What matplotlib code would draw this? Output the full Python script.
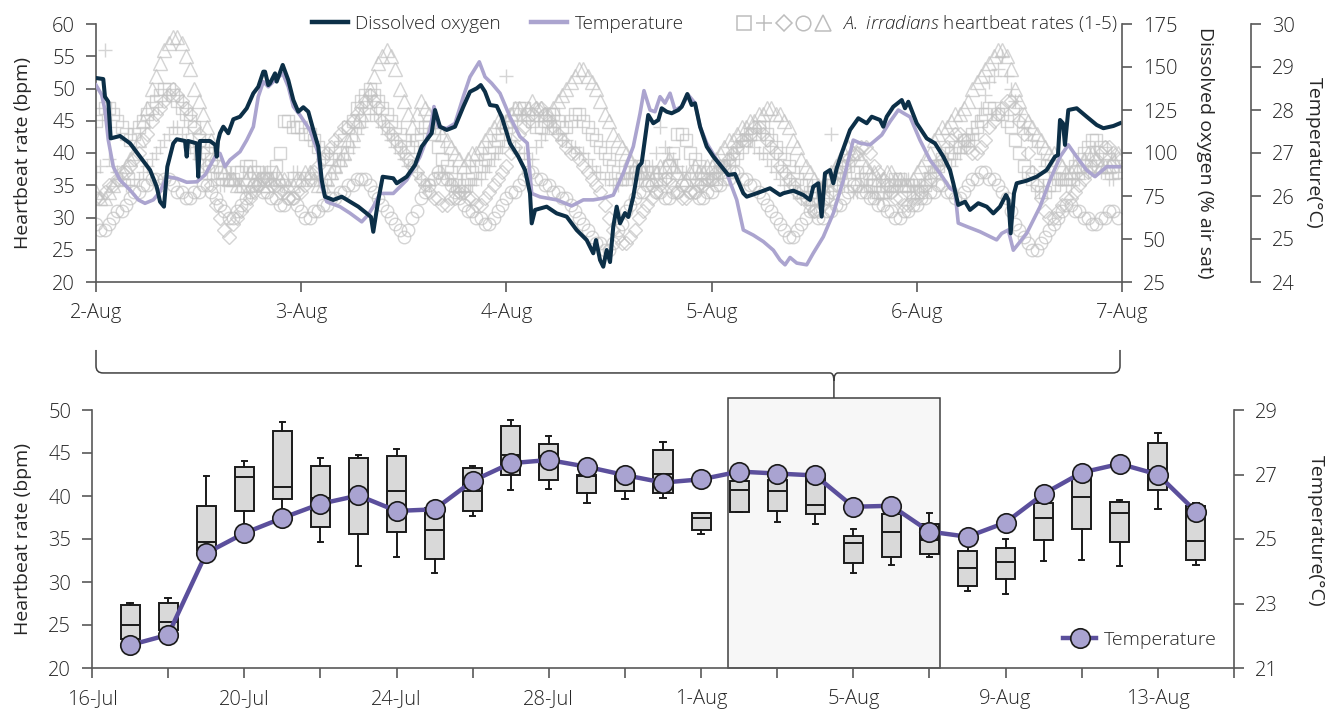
import numpy as np
import matplotlib
matplotlib.use("Agg")
import matplotlib.pyplot as plt
from matplotlib.lines import Line2D
from matplotlib.legend_handler import HandlerTuple
from matplotlib.patches import Rectangle, PathPatch
from matplotlib.path import Path

plt.rcParams["font.family"] = ["Open Sans", "DejaVu Sans"]
plt.rcParams["font.weight"] = "light"
plt.rcParams["mathtext.fontset"] = "custom"
plt.rcParams["mathtext.it"] = "Open Sans:italic"
plt.rcParams["mathtext.rm"] = "Open Sans"

# ---------------- top panel: 2-Aug to 7-Aug high-frequency record ----------------
# hours since 2-Aug 00:00
do_hours = [0, 0.85, 1.05, 1.44, 1.72, 2.81, 3.98, 5.15, 6.32, 7.10, 7.49, 7.95, 8.34, 9.04, 9.44,
            10.41, 10.61, 10.76, 11.78, 11.96, 12.16, 13.33, 13.95, 14.12, 14.27, 14.50, 14.89, 15.47,
            16.06, 16.84, 17.63, 18.40, 18.98, 19.57, 19.77, 20.15, 20.35, 20.94, 21.13, 21.84, 22.49,
            23.08, 23.66, 24.25, 24.83, 25.42, 26.00, 26.40, 26.78, 27.75, 28.74, 29.71, 30.68, 31.66,
            32.16, 32.43, 33.02, 33.53, 34.77, 35.17, 36.34, 37.31, 38.09, 38.68, 39.26, 39.65, 40.23,
            41.02, 41.99, 42.96, 43.74, 44.53, 45.0, 45.50, 46.08, 46.87, 47.45, 48.42, 49.39, 50.18,
            50.76, 50.96, 51.35, 52.71, 53.88, 55.05, 56.22, 57.39, 58.16, 58.48, 58.95, 59.33, 59.73,
            60.12, 60.50, 60.90, 61.29, 61.87, 62.26, 62.84, 63.43, 63.82, 64.59, 65.18, 65.77, 66.16,
            66.75, 67.33, 68.11, 68.50, 69.16, 69.67, 70.06, 70.65, 71.43, 72.21, 73.18, 73.96, 74.74,
            75.71, 76.11, 77.28, 78.83, 80.0, 80.39, 81.56, 82.72, 83.51, 83.89, 84.48, 84.87, 85.26,
            85.85, 86.24, 86.63, 87.21, 88.19, 89.16, 90.14, 90.73, 91.70, 92.08, 92.48, 93.25, 94.24,
            94.62, 95.01, 95.99, 97.16, 98.13, 99.10, 99.88, 100.27, 100.85, 101.64, 102.22, 103.19,
            104.18, 104.95, 105.73, 106.43, 106.72, 106.98, 107.37, 107.68, 108.85, 110.02, 111.19,
            112.16, 112.51, 112.75, 113.10, 113.33, 113.72, 114.70, 115.87, 117.04, 117.82, 118.99, 119.77]
do_values = [143.6, 143.0, 132.7, 129.8, 108.5, 109.9, 105.6, 97.9, 90.1, 80.4, 71.7, 68.8, 92.0, 105.6, 108.0,
             107.0, 97.9, 107.0, 105.6, 86.2, 107.0, 107.0, 104.7, 97.9, 107.0, 111.5, 115.3, 111.5,
             119.6, 121.1, 126.0, 134.7, 138.5, 147.3, 147.3, 139.5, 140.5, 146.3, 141.5, 151.2, 142.4,
             130.8, 124.0, 126.6, 124.0, 113.4, 103.7, 84.3, 74.6, 72.7, 74.6, 71.7, 68.8, 64.9,
             62.8, 54.2, 72.7, 86.2, 85.3, 82.4, 86.2, 93.0, 103.7, 107.6, 111.5, 125.0, 115.3,
             113.4, 115.3, 126.9, 135.6, 137.6, 139.5, 135.6, 127.9, 127.3, 121.1, 105.6, 97.9, 90.1,
             76.6, 59.1, 66.9, 68.8, 64.9, 63.0, 55.2, 49.4, 41.7, 49.4, 37.8, 33.9, 43.6,
             36.6, 57.2, 68.8, 59.1, 65.1, 62.8, 74.6, 92.0, 94.2, 122.1, 117.3, 119.2, 126.0,
             124.0, 123.1, 125.0, 126.9, 134.3, 127.9, 128.9, 115.3, 103.7, 97.9, 92.0, 87.2, 87.8,
             76.6, 74.6, 76.6, 79.5, 75.6, 76.6, 78.1, 75.6, 72.7, 80.4, 82.4, 63.0, 88.2,
             90.1, 82.4, 91.1, 99.8, 113.4, 120.2, 117.3, 121.1, 119.2, 115.3, 121.1, 126.9, 130.8,
             126.0, 129.8, 117.3, 108.5, 105.6, 97.9, 90.1, 82.4, 69.8, 71.7, 66.9, 70.8,
             68.8, 64.9, 68.8, 75.6, 72.7, 53.3, 76.6, 82.4, 83.9, 86.2, 90.1,
             97.9, 98.8, 119.2, 117.3, 104.7, 125.0, 126.0, 121.1, 116.3, 114.4, 115.7, 117.3]

temp_hours = [0, 0.67, 1.05, 1.44, 2.02, 2.81, 3.98, 4.95, 5.73, 6.70, 7.49, 8.27, 9.44, 10.61, 11.78,
              12.75, 13.92, 14.50, 15.09, 15.67, 16.84, 17.63, 18.40, 18.98, 19.57, 20.15, 20.94, 21.84,
              22.49, 23.08, 23.86, 25.03, 26.00, 26.40, 26.98, 28.54, 29.71, 31.08, 31.82, 32.43, 33.22,
              34.77, 36.34, 37.89, 39.06, 39.53, 40.04, 41.02, 41.99, 42.96, 43.74, 44.83, 45.50, 46.28,
              47.25, 48.42, 49.59, 50.44, 50.96, 51.93, 53.88, 55.64, 57.0, 58.16, 59.33, 60.50, 61.67,
              62.84, 63.63, 64.09, 64.80, 65.38, 65.97, 66.55, 67.14, 67.72, 68.50, 69.27, 70.06, 70.65,
              71.43, 72.60, 73.77, 74.94, 75.71, 76.88, 78.05, 79.22, 80.0, 80.59, 81.17, 81.96, 83.12,
              83.89, 85.06, 86.24, 87.41, 88.57, 89.36, 90.53, 91.90, 92.87, 93.84, 94.50, 95.21, 96.37,
              97.54, 98.71, 99.88, 100.47, 100.85, 101.84, 103.39, 105.34, 105.93, 106.70, 107.29,
              108.85, 110.41, 111.58, 112.75, 113.72, 114.70, 115.87, 116.84, 118.21, 119.77]
temp_values = [28.58, 28.35, 28.0, 27.30, 26.68, 26.37, 26.14, 25.91, 25.83, 25.91, 26.10, 26.45, 26.41, 26.32, 26.33,
               26.49, 26.91, 26.99, 26.68, 26.84, 27.03, 27.30, 27.61, 28.31, 28.66, 28.54, 28.70, 28.85,
               28.54, 28.08, 27.88, 27.53, 26.99, 26.22, 25.87, 25.75, 25.60, 25.40, 25.56, 25.75, 26.06,
               26.06, 26.37, 26.91, 27.53, 28.08, 27.61, 27.57, 27.69, 28.31, 28.77, 29.12, 28.77, 28.62,
               28.39, 27.84, 27.38, 27.23, 26.06, 25.98, 25.91, 25.77, 25.91, 25.91, 25.95, 26.02, 26.53,
               27.15, 27.92, 28.45, 28.0, 27.96, 28.31, 28.16, 28.39, 28.0, 28.08, 28.35, 28.16, 27.61,
               27.23, 26.84, 26.53, 25.91, 25.21, 25.09, 24.94, 24.74, 24.51, 24.40, 24.57, 24.44, 24.40,
               24.67, 25.05, 25.60, 26.37, 27.30, 27.23, 27.19, 27.42, 27.73, 28.0, 27.92, 27.84, 27.30,
               26.84, 26.53, 26.18, 26.10, 25.37, 25.29, 25.17, 24.98, 25.13, 25.21, 24.74,
               25.13, 25.75, 26.37, 26.91, 27.19, 26.91, 26.60, 26.45, 26.68, 26.68]

# heartbeat readings (bpm) for the five scallops, on the hour and on the half hour
hb_hours = np.arange(120)
hb_1 = [45, 47, 46, 44, 42, 44, 46, 48, 50, 49, 47, 45, 42, 40, 38, 37, 36, 37, 38, 37, 36, 38, 45, 44,
        44, 43, 41, 39, 40, 42, 45, 48, 50, 48, 46, 44, 42, 41, 43, 44, 41, 38, 36, 35, 37, 38, 40, 42,
        44, 46, 47, 45, 44, 46, 45, 44, 46, 45, 43, 41, 39, 37, 36, 37, 38, 37, 36, 38, 43, 42, 39, 37,
        36, 37, 38, 40, 42, 43, 44, 42, 40, 38, 36, 35, 34, 33, 35, 37, 38, 37, 36, 35, 34, 35, 36, 35,
        34, 35, 37, 39, 40, 41, 42, 44, 46, 47, 46, 44, 40, 37, 35, 34, 35, 36, 37, 39, 41, 42, 40, 38]
hb_1_half = [46, 47, 45, 43, 43, 45, 47, 49, 50, 48, 46, 44, 41, 39, 37, 36, 37, 38, 37, 36, 37, 40, 45, 44,
             43, 42, 40, 39, 41, 44, 47, 49, 49, 47, 45, 43, 41, 42, 44, 43, 39, 37, 35, 36, 38, 39, 41, 43,
             45, 47, 46, 44, 45, 46, 44, 45, 46, 44, 42, 40, 38, 36, 37, 38, 37, 36, 37, 40, 43, 40, 38, 36,
             36, 38, 39, 41, 43, 44, 43, 41, 39, 37, 35, 34, 33, 34, 36, 38, 37, 36, 35, 34, 35, 36, 35, 34,
             34, 36, 38, 40, 41, 42, 43, 45, 47, 46, 45, 42, 38, 36, 34, 35, 36, 36, 38, 40, 42, 41, 39, 37]
hb_2 = [37, 56, 38, 36, 35, 36, 38, 40, 42, 44, 43, 41, 39, 37, 36, 35, 36, 35, 34, 36, 37, 36, 35, 37,
        36, 37, 36, 35, 37, 39, 41, 44, 46, 45, 43, 41, 39, 38, 36, 35, 37, 36, 35, 34, 35, 36, 38, 40,
        52, 41, 40, 39, 42, 44, 43, 42, 41, 40, 38, 37, 36, 35, 36, 37, 36, 38, 44, 40, 38, 37, 36, 35,
        36, 37, 39, 41, 43, 41, 40, 38, 36, 35, 34, 33, 32, 34, 43, 36, 35, 34, 35, 34, 33, 34, 35, 36,
        35, 36, 38, 39, 38, 40, 42, 45, 49, 52, 55, 50, 46, 43, 41, 38, 37, 36, 35, 36, 37, 38, 37, 36]
hb_2_half = [38, 39, 37, 35, 36, 37, 39, 41, 43, 44, 42, 40, 38, 36, 35, 36, 35, 34, 35, 37, 36, 35, 36, 37,
             36, 36, 35, 36, 38, 40, 43, 45, 46, 44, 42, 40, 38, 37, 35, 36, 37, 35, 34, 35, 36, 37, 39, 41,
             42, 40, 39, 41, 43, 44, 42, 41, 40, 39, 37, 36, 35, 36, 37, 36, 37, 40, 41, 39, 37, 36, 35, 36,
             37, 38, 40, 42, 42, 40, 39, 37, 35, 34, 33, 32, 33, 35, 37, 35, 34, 35, 34, 33, 34, 35, 36, 35,
             35, 37, 38, 39, 39, 41, 43, 47, 51, 53, 52, 48, 44, 42, 39, 37, 36, 35, 36, 37, 38, 37, 36, 37]
hb_3 = [33, 34, 35, 37, 38, 40, 43, 46, 48, 50, 48, 46, 43, 38, 32, 28, 29, 31, 33, 35, 36, 35, 34, 33,
        34, 36, 38, 40, 42, 44, 45, 47, 49, 47, 44, 42, 40, 38, 36, 34, 33, 32, 33, 34, 33, 32, 34, 36,
        38, 41, 44, 46, 47, 45, 43, 41, 40, 38, 36, 34, 30, 27, 26, 28, 31, 33, 35, 36, 34, 33, 34, 35,
        36, 38, 39, 41, 42, 44, 43, 41, 38, 36, 34, 33, 31, 32, 34, 37, 39, 40, 41, 38, 36, 34, 33, 32,
        33, 35, 37, 39, 42, 43, 41, 40, 42, 45, 47, 48, 45, 40, 35, 31, 30, 32, 33, 35, 37, 39, 41, 40]
hb_3_half = [33, 35, 36, 37, 39, 42, 45, 47, 49, 49, 47, 44, 40, 35, 30, 27, 30, 32, 34, 36, 35, 34, 33, 34,
             35, 37, 39, 41, 43, 44, 46, 48, 48, 45, 43, 41, 39, 37, 35, 33, 32, 33, 34, 33, 32, 33, 35, 37,
             40, 43, 45, 47, 46, 44, 42, 40, 39, 37, 35, 32, 28, 26, 27, 30, 32, 34, 36, 35, 33, 34, 35, 36,
             37, 38, 40, 42, 43, 44, 42, 40, 37, 35, 33, 32, 31, 33, 35, 38, 40, 41, 40, 37, 35, 33, 32, 33,
             34, 36, 38, 41, 43, 42, 40, 41, 44, 46, 48, 47, 43, 37, 33, 30, 31, 33, 34, 36, 38, 40, 41, 39]
hb_4 = [29, 28, 30, 31, 33, 34, 35, 36, 36, 35, 34, 33, 34, 35, 33, 31, 30, 32, 34, 35, 34, 33, 32, 33,
        31, 30, 31, 32, 33, 34, 35, 36, 35, 33, 31, 29, 27, 30, 33, 35, 37, 36, 34, 32, 31, 30, 29, 31,
        33, 34, 36, 37, 36, 35, 34, 33, 31, 29, 27, 26, 25, 28, 31, 33, 34, 35, 34, 33, 34, 35, 34, 33,
        34, 35, 36, 37, 36, 35, 33, 31, 29, 27, 28, 30, 31, 30, 31, 32, 34, 35, 34, 33, 32, 31, 30, 31,
        32, 33, 34, 35, 34, 33, 35, 36, 37, 36, 34, 31, 28, 26, 25, 27, 29, 31, 32, 31, 30, 29, 30, 31]
hb_4_half = [28, 29, 31, 32, 34, 35, 36, 35, 36, 34, 33, 34, 35, 34, 32, 30, 31, 33, 35, 34, 33, 32, 33, 32,
             30, 31, 32, 33, 34, 35, 36, 36, 34, 32, 30, 28, 28, 31, 34, 36, 36, 35, 33, 31, 30, 29, 30, 32,
             34, 35, 37, 36, 35, 34, 33, 32, 30, 28, 26, 25, 26, 29, 32, 34, 35, 34, 33, 34, 35, 34, 33, 34,
             35, 36, 37, 36, 35, 34, 32, 30, 28, 27, 29, 31, 30, 31, 32, 33, 35, 34, 33, 32, 31, 30, 31, 32,
             33, 34, 35, 34, 33, 34, 36, 37, 36, 35, 33, 29, 27, 25, 26, 28, 30, 32, 31, 30, 29, 30, 31, 30]
hb_5 = [34, 33, 35, 37, 39, 42, 47, 52, 56, 58, 57, 53, 48, 44, 40, 37, 36, 35, 37, 36, 35, 37, 36, 35,
        36, 37, 35, 36, 38, 40, 43, 46, 50, 54, 56, 53, 48, 44, 48, 46, 44, 42, 40, 38, 40, 41, 43, 45,
        45, 47, 46, 48, 47, 46, 48, 50, 52, 53, 51, 48, 45, 42, 40, 38, 37, 36, 38, 39, 37, 36, 38, 37,
        38, 40, 42, 43, 44, 45, 46, 47, 46, 44, 41, 38, 36, 35, 37, 39, 41, 40, 38, 37, 36, 37, 36, 35,
        37, 39, 42, 44, 45, 46, 48, 51, 53, 55, 56, 53, 48, 45, 43, 41, 40, 38, 37, 38, 40, 39, 38, 39]
hb_5_half = [33, 34, 36, 38, 40, 45, 50, 54, 57, 58, 55, 50, 46, 42, 38, 36, 35, 36, 36, 35, 36, 36, 35, 36,
             37, 36, 35, 37, 39, 42, 45, 48, 52, 55, 55, 50, 46, 46, 47, 45, 43, 41, 39, 39, 40, 42, 44, 45,
             46, 47, 47, 47, 46, 47, 49, 51, 53, 52, 50, 46, 43, 41, 39, 37, 36, 37, 38, 38, 36, 37, 37, 38,
             39, 41, 42, 44, 45, 46, 47, 46, 45, 42, 39, 37, 35, 36, 38, 40, 40, 39, 37, 36, 37, 36, 35, 36,
             38, 40, 43, 44, 46, 47, 50, 52, 54, 56, 55, 50, 46, 44, 42, 40, 39, 37, 38, 39, 40, 38, 38, 40]
hb_series = [(hb_1, hb_1_half), (hb_2, hb_2_half), (hb_3, hb_3_half), (hb_4, hb_4_half), (hb_5, hb_5_half)]
hb_markers = ["s", "+", "D", "o", "^"]
hb_sizes = [8.5, 10, 7, 9, 9.5]

top_days = ["2-Aug", "3-Aug", "4-Aug", "5-Aug", "6-Aug", "7-Aug"]

# ---------------- bottom panel: daily summaries 16-Jul to 15-Aug ----------------
box_days = np.arange(1, 30)  # days after 16-Jul
whisker_low = [22.8, 23.6, 33.0, 36.3, 37.5, 34.6, 31.9, 32.9, 31.1, 37.7, 40.7, 40.8, 39.2, 39.7, 39.8,
               35.6, 38.1, 37.0, 36.7, 31.0, 32.0, 32.9, 29.0, 28.6, 32.4, 32.6, 31.9, 38.5, 32.0]
box_q1 = [23.4, 24.4, 33.7, 38.2, 39.6, 36.4, 35.6, 35.8, 32.7, 38.2, 42.4, 41.9, 40.4, 40.6, 40.4,
          36.1, 38.1, 38.3, 37.9, 32.2, 32.9, 33.3, 29.5, 30.4, 34.9, 36.2, 34.7, 40.7, 32.6]
box_median = [25.0, 25.4, 34.6, 42.2, 41.1, 39.8, 40.3, 40.6, 36.0, 40.6, 44.8, 44.6, 42.3, 41.9, 42.6,
              37.4, 40.7, 40.6, 39.0, 34.5, 35.8, 34.9, 31.6, 32.3, 37.5, 39.9, 38.0, 43.0, 34.8]
box_q3 = [27.3, 27.6, 38.8, 43.4, 47.6, 43.5, 44.4, 44.7, 38.6, 43.3, 48.1, 46.1, 42.4, 42.6, 45.3,
          38.0, 41.7, 41.9, 42.3, 35.4, 37.9, 36.8, 33.6, 33.9, 39.2, 42.0, 39.3, 46.2, 38.8]
whisker_high = [27.6, 28.1, 42.3, 44.1, 48.6, 44.4, 44.8, 45.5, 39.0, 43.5, 48.8, 47.0, 42.6, 43.0, 46.3,
                38.0, 42.6, 42.5, 42.8, 36.2, 39.4, 38.0, 34.3, 35.0, 40.0, 42.6, 39.5, 47.3, 39.2]
daily_temp = [21.71, 22.03, 24.56, 25.18, 25.65, 26.09, 26.35, 25.87, 25.92, 26.80, 27.35, 27.45, 27.24,
              26.98, 26.75, 26.85, 27.09, 27.03, 26.97, 26.00, 26.03, 25.23, 25.07, 25.51, 26.40, 27.06,
              27.33, 27.00, 25.85]
bottom_ticks = np.arange(0, 31, 2)
bottom_labels = ["16-Jul", "", "20-Jul", "", "24-Jul", "", "28-Jul", "", "1-Aug", "", "5-Aug", "",
                 "9-Aug", "", "13-Aug", ""]
# window of the top panel, in days after 16-Jul
window_start, window_end = 16.71, 22.27

W, H = 1326, 711
ink = "#262626"
spine = "#595959"
do_color = "#0c2f47"
temp_color = "#aba4cf"
fs = 14
tick_fs = 14.5

fig = plt.figure(figsize=(W / 100, H / 100), dpi=100)


def style_axis(a, which):
    for s in ["top", "right", "left", "bottom"]:
        a.spines[s].set_visible(s in which)
        a.spines[s].set_color(spine)
        a.spines[s].set_linewidth(1.2)
    a.tick_params(colors=spine, labelcolor=ink, labelsize=tick_fs, length=7, width=1.2, pad=8)


# ---- top ----
ax = fig.add_axes([96 / W, 1 - 282 / H, (1122 - 96) / W, (282 - 24) / H])
ax_t = ax.twinx()
ax_o = ax.twinx()

for (vals, vals_half), m, ms in zip(hb_series, hb_markers, hb_sizes):
    for t, v in ((hb_hours, vals), (hb_hours + 0.5, vals_half)):
        ax.plot(t, v, ls="none", marker=m, ms=ms, mfc="none", mec="#c2c2c2",
                mew=1.0, alpha=0.7, zorder=1)

ax_t.plot(temp_hours, temp_values, color=temp_color, lw=2.6, solid_joinstyle="round")
ax_o.plot(do_hours, do_values, color=do_color, lw=2.9, solid_joinstyle="round")

ax.set_xlim(0, 120)
ax.set_ylim(20, 60)
ax.set_yticks(np.arange(20, 61, 5))
ax.set_xticks(np.arange(0, 121, 24))
ax.set_xticklabels(top_days)
ax_o.set_ylim(25, 175)
ax_o.set_yticks(np.arange(25, 176, 25))
ax_t.set_ylim(24, 30)
ax_t.set_yticks(np.arange(24, 31, 1))

style_axis(ax, ["left", "bottom"])
style_axis(ax_o, ["right"])
style_axis(ax_t, ["right"])
ax_t.spines["right"].set_position(("axes", 1.1257))

ax.set_ylabel("Heartbeat rate (bpm)", fontsize=fs, color=ink)
ax.yaxis.set_label_coords(-0.0624, 0.5)
ax_o.set_ylabel("Dissolved oxygen (% air sat)", fontsize=fs, color=ink, rotation=270, va="bottom")
ax_o.yaxis.set_label_coords(1.072, 0.5)
ax_t.set_ylabel("Temperature(°C)", fontsize=fs, color=ink, rotation=270, va="bottom")
ax_t.yaxis.set_label_coords(1.178, 0.5)

line_handles = [Line2D([], [], color=do_color, lw=3.2), Line2D([], [], color=temp_color, lw=3.2)]
leg1 = ax_o.legend(line_handles, ["Dissolved oxygen", "Temperature"], loc="center left",
                   bbox_to_anchor=(0.2105, 1.0), ncol=2, frameon=False, fontsize=13.6,
                   handlelength=1.9, handletextpad=0.4, columnspacing=1.6,
                   borderpad=0, borderaxespad=0)
for t in leg1.get_texts():
    t.set_color(ink)
ax_o.add_artist(leg1)

marker_handles = tuple(Line2D([], [], ls="none", marker=m, ms=ms + 1.5, mfc="none", mec="#bdbdbd", mew=1.1)
                       for m, ms in zip(hb_markers, hb_sizes))
leg2 = ax_o.legend([marker_handles], [r"$\mathit{A.\ irradians}$ heartbeat rates (1-5)"],
                   loc="center right", bbox_to_anchor=(0.996, 1.0), frameon=False, fontsize=13.6,
                   handlelength=5.2, handletextpad=0.5, borderpad=0, borderaxespad=0,
                   handler_map={tuple: HandlerTuple(ndivide=None, pad=0.0)})
for t in leg2.get_texts():
    t.set_color(ink)

# ---- bottom ----
axb = fig.add_axes([92 / W, 1 - 668 / H, (1234 - 92) / W, (668 - 410) / H])
axb2 = axb.twinx()

axb.add_patch(Rectangle((window_start, 20), window_end - window_start, 31.4,
                        facecolor="#f7f7f7", edgecolor="#404040", lw=1.1,
                        clip_on=False, zorder=0))

stats = [dict(whislo=a, q1=b, med=c, q3=d, whishi=e, fliers=[])
         for a, b, c, d, e in zip(whisker_low, box_q1, box_median, box_q3, whisker_high)]
kw = dict(color="#1a1a1a", lw=1.4)
axb.bxp(stats, positions=box_days, widths=0.5, capwidths=0.14, patch_artist=True, showfliers=False,
        manage_ticks=False,
        boxprops=dict(facecolor="#d9d9d9", edgecolor="#1a1a1a", lw=1.4),
        medianprops=kw, whiskerprops=kw, capprops=kw)

axb2.plot(box_days, daily_temp, color="#5b4f9c", lw=3.2, marker="o", ms=14,
          mfc="#a9a3d1", mec="#1a1a1a", mew=1.2, label="Temperature", zorder=3)

axb.set_xlim(0, 30)
axb.set_ylim(20, 50)
axb.set_yticks(np.arange(20, 51, 5))
axb.set_xticks(bottom_ticks)
axb.set_xticklabels(bottom_labels)
axb2.set_ylim(21, 29)
axb2.set_yticks(np.arange(21, 30, 2))
style_axis(axb, ["left", "bottom"])
style_axis(axb2, ["right"])

axb.set_ylabel("Heartbeat rate (bpm)", fontsize=fs, color=ink)
axb.yaxis.set_label_coords(-0.0525, 0.5)
axb2.set_ylabel("Temperature(°C)", fontsize=fs, color=ink, rotation=270, va="bottom")
axb2.yaxis.set_label_coords(1.064, 0.53)

leg3 = axb2.legend(loc="center right", bbox_to_anchor=(0.985, 0.109), frameon=False, fontsize=fs,
                   handlelength=1.7, handletextpad=0.4, borderpad=0, borderaxespad=0)
for t in leg3.get_texts():
    t.set_color(ink)

# ---- curly brace linking the top window to the shaded days below ----
fig.canvas.draw()
inv = fig.transFigure.inverted()
x_left = ax.transAxes.transform((0, 0))[0]
x_right = ax.transAxes.transform((1, 0))[0] - 2
x_mid = axb.transData.transform(((window_start + window_end) / 2, 0))[0]
y_box = axb.transData.transform((0, 51.4))[1]
y_line = y_box + 25
y_tip = y_line + 23
r = 7
verts = [(x_left, y_tip), (x_left, y_line + r), (x_left, y_line), (x_left + r, y_line),
         (x_mid - 4, y_line), (x_mid, y_line), (x_mid, y_line - 8), (x_mid, y_box),
         (x_mid, y_line - 8), (x_mid, y_line), (x_mid + 4, y_line),
         (x_right - r, y_line), (x_right, y_line), (x_right, y_line + r), (x_right, y_tip)]
codes = [Path.MOVETO, Path.LINETO, Path.CURVE3, Path.CURVE3,
         Path.LINETO, Path.CURVE3, Path.CURVE3, Path.LINETO,
         Path.MOVETO, Path.CURVE3, Path.CURVE3,
         Path.LINETO, Path.CURVE3, Path.CURVE3, Path.LINETO]
brace = Path(inv.transform(verts), codes)
fig.patches.append(PathPatch(brace, transform=fig.transFigure, fill=False,
                             edgecolor="#404040", lw=1.1))

fig.savefig("out.png", dpi=100)
